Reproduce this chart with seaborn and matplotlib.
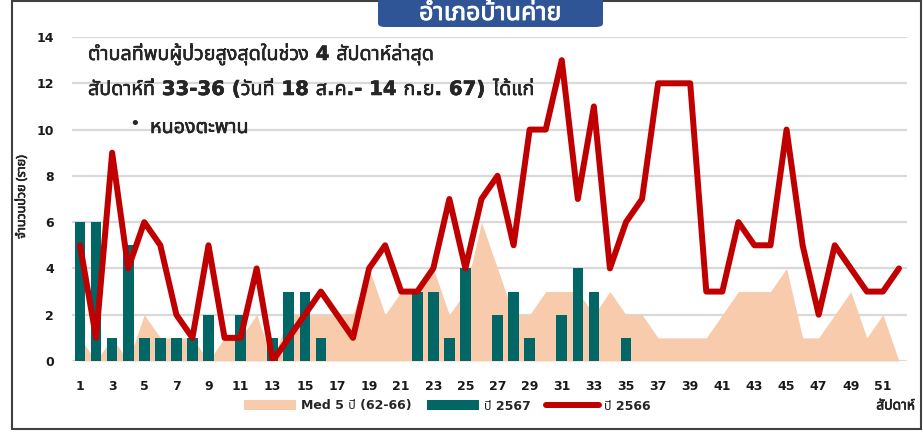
import numpy as np
import pandas as pd
import matplotlib
matplotlib.use("Agg")
import matplotlib.pyplot as plt
import matplotlib.patheffects as pe
import seaborn as sns
from matplotlib import font_manager as fm
from matplotlib.ft2font import FT2Font
from matplotlib.patches import Patch, FancyBboxPatch, Rectangle
from matplotlib.lines import Line2D

# ---------------- data ----------------
weeks = list(range(1, 53))
med_5yr = [1, 0, 1, 0, 2, 1, 1, 1, 0, 1, 1, 2, 0, 2, 2, 2, 2, 2, 4, 2,
           3, 3, 4, 2, 3, 6, 4, 2, 2, 3, 3, 3, 2, 3, 2, 2, 1, 1, 1, 1,
           2, 3, 3, 3, 4, 1, 1, 2, 3, 1, 2, 0]
cases_2567 = [6, 6, 1, 5, 1, 1, 1, 1, 2, 0, 2, 0, 1, 3, 3, 1, 0, 0, 0, 0,
              0, 3, 3, 1, 4, 0, 2, 3, 1, 0, 2, 4, 3, 0, 1] + [np.nan] * 17
cases_2566 = [5, 1, 9, 4, 6, 5, 2, 1, 5, 1, 1, 4, 0, 1, 2, 3, 2, 1, 4, 5,
              3, 3, 4, 7, 4, 7, 8, 5, 10, 10, 13, 7, 11, 4, 6, 7, 12, 12, 12, 3,
              3, 6, 5, 5, 10, 5, 2, 5, 4, 3, 3, 4]
xtick_weeks = list(range(1, 52, 2))
ytick_vals = list(range(0, 15, 2))

series_labels = ["Med 5 ปี (62-66)", "ปี 2567", "ปี 2566"]
title_text = "อำเภอบ้านค่าย"
ylabel_text = "จำนวนป่วย (ราย)"
xlabel_text = "สัปดาห์"
note_line1 = "ตำบลที่พบผู้ป่วยสูงสุดในช่วง 4 สัปดาห์ล่าสุด"
note_line2a = "สัปดาห์ที่ 33-36 (วันที่ 18 ส.ค.- 14 ก.ย. 67)"
note_line2b = " ได้แก่"
note_item = "หนองตะพาน"

# ---------------- colours ----------------
C_MED = "#F8CBAD"
C_2567 = "#006666"
C_2566 = "#C00000"
C_GRID = "#D9D9D9"
C_BOX = "#2F5597"

sns.set_style("white")

# find a font that has Thai glyphs
def thai_fonts():
    found = []
    for f in fm.fontManager.ttflist:
        try:
            cm = FT2Font(f.fname).get_charmap()
        except Exception:
            continue
        if 0x0E01 in cm and 0x0E33 in cm and 0x0E1B in cm:
            found.append(f)
    return found

tf = thai_fonts()
pref = ["Noto Sans Thai", "Noto Sans Thai UI", "Loma", "Tlwg Typo", "Garuda", "Sarabun"]
THAI = None
for p in pref:
    if any(f.name == p for f in tf):
        THAI = p
        break
if THAI is None and tf:
    THAI = tf[0].name
FAM = ["DejaVu Sans"] + ([THAI] if THAI else [])
THAI_FAM = ([THAI] if THAI else []) + ["DejaVu Sans"]
plt.rcParams["font.family"] = FAM

W, H = 923, 433
fig = plt.figure(figsize=(W / 100, H / 100), dpi=100)
fx = lambda px: px / W
fy = lambda py: 1 - py / H

ax = fig.add_axes([fx(72), fy(361), fx(907) - fx(72), fy(37) - fy(361)])

# median area
ax.fill_between(weeks, med_5yr, 0, color=C_MED, linewidth=0, zorder=1)

# bars 2567
df_b = pd.DataFrame({"week": weeks, "cases": cases_2567}).dropna()
sns.barplot(data=df_b, x="week", y="cases", native_scale=True, color=C_2567,
            saturation=1, width=0.66, errorbar=None, ax=ax, zorder=2,
            linewidth=0)

# line 2566
df_l = pd.DataFrame({"week": weeks, "cases": cases_2566})
sns.lineplot(data=df_l, x="week", y="cases", color=C_2566, linewidth=4.3,
             ax=ax, zorder=3, solid_capstyle="round", solid_joinstyle="round")

ax.set_xlim(0.5, 52.5)
ax.set_ylim(0, 14)
ax.set_yticks(ytick_vals)
ax.set_xticks(xtick_weeks)
ax.set_xticklabels([str(w) for w in xtick_weeks])
ax.set_yticklabels([str(v) for v in ytick_vals])
ax.grid(axis="y", color=C_GRID, linewidth=1.6)
ax.grid(axis="x", visible=False)
ax.set_axisbelow(True)
for s in ax.spines.values():
    s.set_visible(False)
ax.tick_params(axis="both", length=0, labelsize=9)
ax.tick_params(axis="y", pad=13)
ax.tick_params(axis="x", pad=14)
for lab in ax.get_xticklabels() + ax.get_yticklabels():
    lab.set_fontweight("bold")
    lab.set_color("#1a1a1a")
ax.set_xlabel("")
ax.set_ylabel("")

bold_fx = [pe.withStroke(linewidth=0.35, foreground="black")]
thin_fx = [pe.withStroke(linewidth=0.4, foreground="black")]

# y label
fig.text(fx(21.5), fy(197), ylabel_text, rotation=90, ha="center", va="center",
         fontsize=9, family=THAI_FAM, path_effects=thin_fx)
# x label
fig.text(fx(915), fy(406), xlabel_text, ha="right", va="center",
         fontsize=10, family=THAI_FAM, path_effects=thin_fx)

# annotation text
fig.text(fx(88), fy(60), note_line1, ha="left", va="baseline",
         fontsize=14.2, family=FAM, fontweight="bold", path_effects=bold_fx)
t2a = fig.text(fx(88), fy(95), note_line2a, ha="left", va="baseline",
               fontsize=14.2, family=FAM, fontweight="bold", path_effects=bold_fx)
fig.text(fx(135), fy(124), "•", ha="center", va="center", fontsize=13)
fig.text(fx(150), fy(133), note_item, ha="left", va="baseline",
         fontsize=14.2, family=FAM, fontweight="bold", path_effects=bold_fx)

# legend
handles = [Patch(facecolor=C_MED, edgecolor="none"),
           Patch(facecolor=C_2567, edgecolor="none"),
           Line2D([0], [0], color=C_2566, linewidth=4.3, solid_capstyle="round")]
leg = fig.legend(handles, series_labels, loc="center",
                 bbox_to_anchor=(fx(447), fy(406)), ncol=3, frameon=False,
                 fontsize=9, handlelength=4.2, handleheight=0.8,
                 handletextpad=0.4, columnspacing=1.2, borderpad=0)
for t in leg.get_texts():
    t.set_fontweight("bold")

# outer frame
fig.add_artist(Rectangle((fx(12), fy(429)), fx(921) - fx(12), fy(1) - fy(429),
                         transform=fig.transFigure, fill=False,
                         edgecolor="#404040", linewidth=1.5, zorder=0))

# title box (cut off at top, as in the source)
fig.add_artist(FancyBboxPatch((fx(378), fy(27)), fx(603) - fx(378), fy(-10) - fy(27),
                              boxstyle="round,pad=0,rounding_size=0.008",
                              transform=fig.transFigure, facecolor=C_BOX,
                              edgecolor="none", zorder=5, clip_on=False))
fig.text(fx(490), fy(20), title_text, ha="center", va="baseline", color="white",
         fontsize=18, family=THAI_FAM, zorder=6,
         path_effects=[pe.withStroke(linewidth=0.6, foreground="white")])

# draw once so that the second part of line 2 can follow the first
fig.canvas.draw()
bb = t2a.get_window_extent()
fig.text(bb.x1 / W, fy(95), note_line2b, ha="left", va="baseline",
         fontsize=14.2, family=FAM, fontweight="bold", path_effects=bold_fx)

fig.savefig("out.png", dpi=100)
